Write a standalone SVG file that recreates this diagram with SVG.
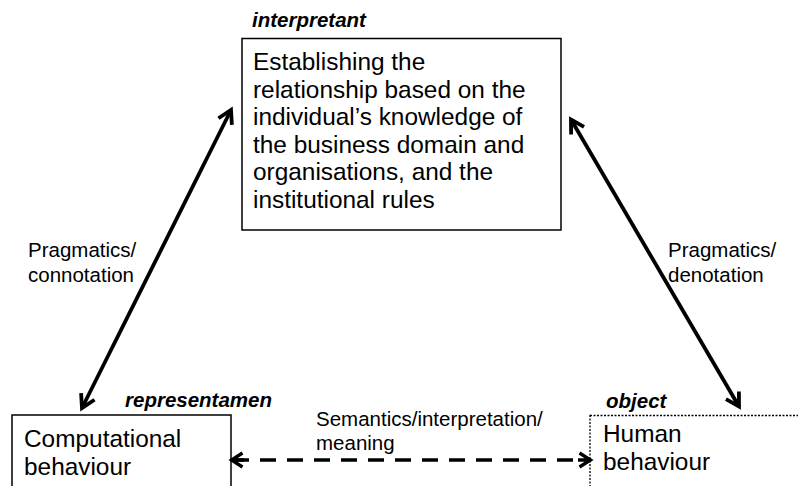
<svg xmlns="http://www.w3.org/2000/svg" width="798" height="486" viewBox="0 0 798 486">
<style>
.t{font-family:"Liberation Sans",Arial,sans-serif;fill:#000}
.big{font-size:24.4px}
.lab{font-size:20.5px}
.role{font-size:20.5px;font-weight:bold;font-style:italic}
.box{fill:#fff;stroke:#000;stroke-width:1.5}
.dot{fill:#fff;stroke:#000;stroke-width:1.3;stroke-dasharray:2 1.5}
.arr{fill:none;stroke:#000;stroke-width:3.8}
.dash{fill:none;stroke:#000;stroke-width:3.5;stroke-dasharray:16 11}
</style>
<defs>
<marker id="ch" viewBox="-16 -10 20 20" refX="0" refY="0" markerWidth="20" markerHeight="20" markerUnits="userSpaceOnUse" orient="auto-start-reverse">
<path d="M-13,-7.5 L0,0 L-13,7.5" fill="none" stroke="#000" stroke-width="3.8" stroke-linejoin="miter"/>
</marker>
<marker id="ch2" viewBox="-16 -10 20 20" refX="0" refY="0" markerWidth="20" markerHeight="20" markerUnits="userSpaceOnUse" orient="auto-start-reverse">
<path d="M-11,-7 L0,0 L-11,7" fill="none" stroke="#000" stroke-width="3.3" stroke-linejoin="miter"/>
</marker>
</defs>
<g id="interpretant">
<rect class="box" x="242" y="38.5" width="319" height="191.5"/>
<text class="t role" x="252" y="27">interpretant</text>
<text class="t big" x="253" y="70">Establishing the</text>
<text class="t big" x="253" y="97.5">relationship based on the</text>
<text class="t big" x="253" y="125">individual’s knowledge of</text>
<text class="t big" x="253" y="152.5">the business domain and</text>
<text class="t big" x="253" y="180">organisations, and the</text>
<text class="t big" x="253" y="207.5">institutional rules</text>
</g>
<g id="representamen">
<rect class="box" x="12" y="415" width="219" height="80"/>
<text class="t role" x="125" y="407">representamen</text>
<text class="t big" x="24" y="447">Computational</text>
<text class="t big" x="24" y="475">behaviour</text>
</g>
<g id="object">
<rect class="dot" x="590" y="415.5" width="220" height="80"/>
<text class="t role" x="606" y="408">object</text>
<text class="t big" x="603" y="442">Human</text>
<text class="t big" x="603" y="470">behaviour</text>
</g>
<g id="connectors">
<line class="arr" x1="82" y1="408" x2="231" y2="110" marker-start="url(#ch)" marker-end="url(#ch)"/>
<line class="arr" x1="739" y1="406.5" x2="571" y2="119.5" marker-start="url(#ch)" marker-end="url(#ch)"/>
<line class="dash" x1="233" y1="460" x2="588" y2="460"/>
<line x1="231.5" y1="460" x2="244" y2="460" stroke="#000" stroke-width="3.5" marker-start="url(#ch2)"/>
<line x1="578" y1="460" x2="590.5" y2="460" stroke="#000" stroke-width="3.5" marker-end="url(#ch2)"/>
<text class="t lab" x="28" y="257">Pragmatics/</text>
<text class="t lab" x="28" y="282">connotation</text>
<text class="t lab" x="668" y="257">Pragmatics/</text>
<text class="t lab" x="668" y="282">denotation</text>
<text class="t lab" x="316" y="426">Semantics/interpretation/</text>
<text class="t lab" x="316" y="450">meaning</text>
</g>
</svg>
